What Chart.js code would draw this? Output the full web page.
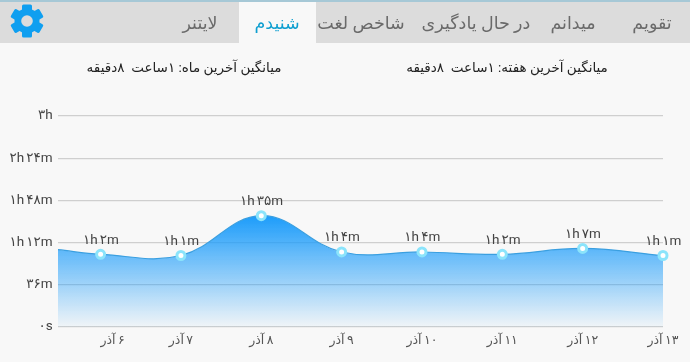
<!DOCTYPE html>
<html lang="fa"><head><meta charset="utf-8">
<style>
html,body{margin:0;padding:0;background:#f8f8f8;width:690px;height:362px;overflow:hidden;font-family:Roboto,"DejaVu Sans",sans-serif}
#topline{position:absolute;left:0;top:0;width:690px;height:2px;background:#a6c8d6;z-index:3}
#band{position:absolute;left:0;top:0;width:690px;height:43px;background:#dcdcdc;z-index:1}
#active{position:absolute;left:239px;top:2px;width:77px;height:41px;background:#f8f8f8;z-index:2}
.tab{position:absolute;top:23px;transform:translate(-50%,-50%);font-size:17.5px;color:#6a6a6a;white-space:nowrap;z-index:3;direction:rtl}
.stat{position:absolute;top:67px;transform:translate(-50%,-50%);font-size:13.5px;color:#222;white-space:pre;z-index:3;direction:rtl}
#gear{position:absolute;left:10px;top:4px;z-index:3}
#wrap{position:absolute;left:0;top:0;width:690px;height:362px;z-index:2}
</style></head><body>
<div id="band"></div><div id="active"></div><div id="topline"></div>
<svg id="gear" width="34" height="34" viewBox="-17 -17 34 34">
<g fill="#0f9ff0">
<circle r="12.5"/>
<rect x="-5" y="-16.5" width="10" height="33" rx="1.5"/>
<rect x="-5" y="-16.5" width="10" height="33" rx="1.5" transform="rotate(60)"/>
<rect x="-5" y="-16.5" width="10" height="33" rx="1.5" transform="rotate(120)"/>
</g><circle r="5.8" fill="#dcdcdc"/></svg>
<span class="tab" style="left:200px">لایتنر</span>
<span class="tab" style="left:277px;color:#0f9fd0">شنیدم</span>
<span class="tab" style="left:361px">شاخص لغت</span>
<span class="tab" style="left:476px">در حال یادگیری</span>
<span class="tab" style="left:573px">میدانم</span>
<span class="tab" style="left:652px">تقویم</span>
<span class="stat" style="left:184px">میانگین آخرین ماه: ۱ساعت  ۸دقیقه</span>
<span class="stat" style="left:507px">میانگین آخرین هفته: ۱ساعت  ۸دقیقه</span>
<div id="wrap"><canvas id="c" width="690" height="362"></canvas></div>
<script src="https://cdn.jsdelivr.net/npm/chart.js@4/dist/chart.umd.min.js"></script>
<script>
const pointX = [-0.53, 0, 1, 2, 3, 4, 5, 6, 7];
const minutes = [66, 62, 61, 95, 64, 64, 62, 67, 61];
const valueLabels = ['', '۱h ۲m', '۱h ۱m', '۱h ۳۵m', '۱h ۴m', '۱h ۴m', '۱h ۲m', '۱h ۷m', '۱h ۱m'];
const xTickPositions = [0.15, 1, 2, 3, 4, 5, 6, 7];
const xTickLabels = ['۶ آذر', '۷ آذر', '۸ آذر', '۹ آذر', '۱۰ آذر', '۱۱ آذر', '۱۲ آذر', '۱۳ آذر'];
const yTickValues = [0, 36, 72, 108, 144, 180];
const yTickLabels = ['۰s', '۳۶m', '۱h ۱۲m', '۱h ۴۸m', '۲h ۲۴m', '۳h'];

const tightTextPlugin = {
  id: 'tightText',
  beforeDraw(chart) {
    chart.ctx.letterSpacing = '-0.6px';
  }
};

const valueLabelPlugin = {
  id: 'valueLabels',
  afterDatasetsDraw(chart) {
    const ctx = chart.ctx, meta = chart.getDatasetMeta(0);
    ctx.save();
    ctx.font = '13.5px Roboto, "DejaVu Sans", sans-serif';
    ctx.fillStyle = '#444';
    ctx.textAlign = 'center';
    ctx.textBaseline = 'middle';
    meta.data.forEach((p, i) => {
      if (valueLabels[i]) ctx.fillText(valueLabels[i], p.x, p.y - 14);
    });
    ctx.restore();
  }
};

new Chart(document.getElementById('c'), {
  type: 'line',
  data: {
    datasets: [{
      data: pointX.map((x, i) => ({ x, y: minutes[i] })),
      borderColor: '#3a9fe0',
      borderWidth: 1.2,
      tension: 0.4,
      fill: 'origin',
      backgroundColor(ctx) {
        const { chart } = ctx;
        if (!chart.chartArea) return 'rgba(30,158,250,0.6)';
        const y = chart.scales.y;
        const g = chart.ctx.createLinearGradient(0, y.getPixelForValue(Math.max(...minutes)), 0, y.getPixelForValue(0));
        g.addColorStop(0, 'rgba(28,156,250,1)');
        g.addColorStop(1, 'rgba(28,156,250,0.03)');
        return g;
      },
      pointRadius: pointX.map((x, i) => i === 0 ? 0 : 4),
      pointBorderWidth: 3,
      pointBorderColor: '#8be4fb',
      pointBackgroundColor: '#ffffff',
      clip: false
    }]
  },
  options: {
    responsive: false,
    animation: false,
    layout: { padding: { top: 116, right: 27, left: 0, bottom: 0 } },
    plugins: { legend: { display: false }, tooltip: { enabled: false } },
    scales: {
      x: {
        type: 'linear',
        min: pointX[0],
        max: 7,
        afterBuildTicks(s) { s.ticks = xTickPositions.map(value => ({ value })); },
        afterFit(s) { s.height = 35; s.paddingLeft = 0; s.paddingRight = 0; },
        grid: { display: false },
        border: { display: false },
        ticks: {
          autoSkip: false, maxRotation: 0, padding: -2,
          font: { size: 12.5, family: 'Roboto, "DejaVu Sans", sans-serif' },
          color: '#555',
          callback(v, i) { return '\u202B' + xTickLabels[i] + '\u202C'; }
        }
      },
      y: {
        min: 0,
        max: 180,
        afterBuildTicks(s) { s.ticks = yTickValues.map(value => ({ value })); },
        afterFit(s) { s.width = 58; s.paddingTop = 0; s.paddingBottom = 0; },
        grid: { color: '#cfcfcf', lineWidth: 1.2, drawTicks: false },
        border: { display: false },
        ticks: {
          padding: 6,
          font: { size: 13.5, family: 'Roboto, "DejaVu Sans", sans-serif' },
          color: '#444',
          callback(v, i) { return yTickLabels[i]; }
        }
      }
    }
  },
  plugins: [tightTextPlugin, valueLabelPlugin]
});
</script>
</body></html>
